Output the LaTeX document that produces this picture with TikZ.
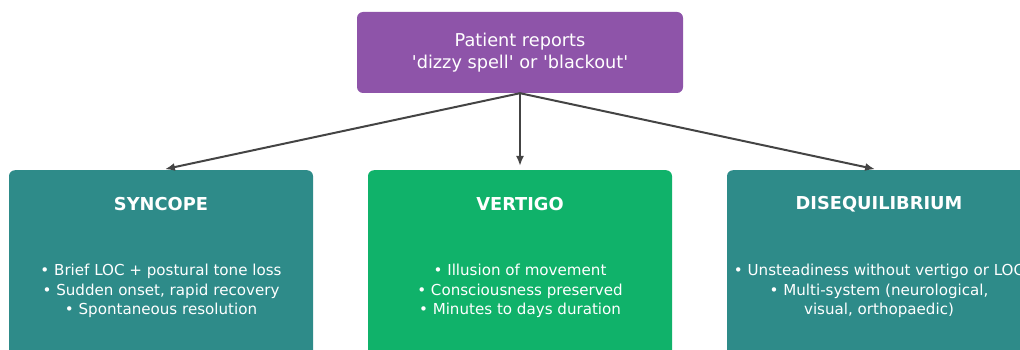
\documentclass[tikz,border=0pt]{standalone}
\usepackage{fontspec}
\setmainfont{DejaVu Sans}
\usepackage{xcolor}
\usetikzlibrary{arrows.meta,positioning}
\definecolor{DPurple}{HTML}{8E54A9}
\definecolor{DTeal}{HTML}{2E8B89}
\definecolor{DGreen}{HTML}{10B26A}
\definecolor{DArrow}{HTML}{444444}

\begin{document}
\begin{tikzpicture}[
  x=1pt,y=-1pt,
  src/.style={fill=DPurple,rounded corners=6pt,minimum width=326pt,
    minimum height=81pt,text=white,align=center,
    font=\fontsize{17.7}{22}\selectfont},
  cat/.style={rounded corners=6pt,minimum width=304pt,minimum height=200pt,
    anchor=north},
  ttl/.style={text=white,font=\fontsize{17.8}{20}\selectfont\bfseries},
  pts/.style={text=white,align=center,font=\fontsize{15.1}{19.5}\selectfont},
  a/.style={-{Latex[length=10pt,width=8pt]},line width=2pt,color=DArrow,
    shorten >=4pt}
]
  \useasboundingbox (0,0) rectangle (1020,350);
  \clip (0,0) rectangle (1020,350);
  \node[src] (patient) at (520,52.5)
    {Patient reports\\\textquotesingle dizzy spell\textquotesingle{} or \textquotesingle blackout\textquotesingle};
  % the three categories, cut off at the page edge
  \node[cat,fill=DTeal] (syncope) at (161,170) {};
  \node[cat,fill=DGreen] (vertigo) at (520,170) {};
  \node[cat,fill=DTeal] (diseq) at (879,170) {};
  \node[ttl] (syncopettl) at (161,204) {SYNCOPE};
  \node[ttl] (vertigottl) at (520,204) {VERTIGO};
  \node[ttl] (diseqttl) at (879,204) {DISEQUILIBRIUM};
  \node[pts] (syncopepts) at (161,291)
    {• Brief LOC + postural tone loss\\• Sudden onset, rapid recovery\\• Spontaneous resolution};
  \node[pts] (vertigopts) at (520,291)
    {• Illusion of movement\\• Consciousness preserved\\• Minutes to days duration};
  \node[pts] (diseqpts) at (879,291)
    {• Unsteadiness without vertigo or LOC\\• Multi-system (neurological,\\visual, orthopaedic)};
  \foreach \y in {syncope,vertigo,diseq}
    {\draw[a] (patient.south) -- (\y.north);}
\end{tikzpicture}
\end{document}
